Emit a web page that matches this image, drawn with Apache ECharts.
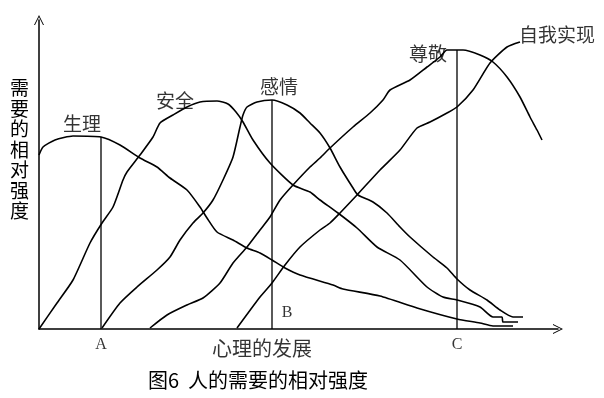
<!DOCTYPE html>
<html style="height: 100%">
<head>
    <meta charset="utf-8">
    <script src="https://cdn.jsdelivr.net/npm/echarts@6/dist/echarts.min.js"></script>
    <title>人的需要的相对强度</title>
</head>
<body style="height: 100%; margin: 0; background: #fff">
<div id="container" style="width: 604px; height: 398px"></div>
<script type="text/javascript">
// curve points: [development, relative strength]
let shengli = [[0,174],[4,182],[16,189],[34,193],[62,192],[81,184],[101,171],[118,162],[131,151],[148,139],[161,122],[168,111],[178,97],[194,89],[208,81],[221,76],[233,69],[246,61],[261,54],[294,44],[304,40],[341,33],[378,21],[418,10],[441,6],[454,3],[474,3]]
let anquan = [[0,0],[18,26],[34,49],[51,86],[63,106],[74,122],[84,149],[88,157],[101,174],[114,192],[121,206],[134,214],[148,222],[161,227],[178,228],[189,225],[197,217],[204,207],[214,189],[231,166],[254,144],[271,137],[281,129],[299,116],[318,101],[338,82],[361,69],[388,42],[404,32],[418,29],[441,22],[454,12],[463,12],[464,7],[479,7]]
let ganqing = [[63,1],[81,26],[98,42],[118,59],[131,72],[141,89],[154,106],[164,116],[174,129],[184,149],[194,172],[201,202],[204,214],[208,222],[218,227],[233,229],[248,224],[261,216],[271,206],[281,196],[291,181],[301,162],[314,141],[319,134],[334,127],[348,116],[361,102],[371,92],[394,72],[408,61],[418,50],[431,39],[448,29],[461,19],[474,12],[484,12]]
let zunjing = [[111,1],[128,14],[148,24],[164,31],[181,46],[194,66],[208,82],[221,99],[231,112],[241,129],[254,144],[271,162],[281,171],[291,181],[314,202],[331,216],[344,229],[351,239],[371,249],[388,262],[401,272],[408,279],[418,279],[424,279],[441,274],[454,267],[468,252],[481,232],[491,212],[498,199],[503,189]]
let ziwo = [[198,1],[221,32],[233,46],[246,64],[261,82],[281,99],[291,106],[301,116],[318,134],[341,159],[361,179],[378,201],[391,207],[408,216],[418,222],[434,239],[451,266],[468,282],[481,287]]

let curveNames = ['生理', '安全', '感情', '尊敬', '自我实现']
let curveLabelPos = [[43,205],[136,228],[240,242],[389,275],[518,294]]

// stages A, B, C and the height of the vertical line at each
let stageNames = ['A', 'B', 'C']
let stageX = [62, 233, 418]
let stageTop = [192, 229, 279]
let stageLabelPos = [[62,-16],[248,16],[418,-16]]

let xName = '心理的发展'
let yName = '需要的相对强度'
let caption = '图6  人的需要的相对强度'

let curves = [shengli, anquan, ganqing, zunjing, ziwo]
let series = []
curves.forEach(function (d, i) {
    series.push({
        name: curveNames[i],
        type: 'line',
        data: d,
        smooth: 0.2,
        symbol: 'none',
        lineStyle: {color: '#000', width: 1.6}
    })
})
stageX.forEach(function (x, i) {
    series.push({
        type: 'line',
        data: [[x, 0], [x, stageTop[i]]],
        symbol: 'none',
        lineStyle: {color: '#000', width: 1.3}
    })
})

let cjk = '"Noto Sans CJK SC", sans-serif'

series.push({
    type: 'scatter',
    symbolSize: 0,
    clip: false,
    data: curveNames.map(function (n, i) {
        return {value: curveLabelPos[i], name: n}
    }),
    label: {
        show: true, position: 'inside', formatter: '{b}',
        color: '#000', fontSize: 19, fontFamily: cjk
    }
})
series.push({
    type: 'scatter',
    symbolSize: 0,
    clip: false,
    data: stageNames.map(function (n, i) {
        return {value: stageLabelPos[i], name: n}
    }).concat([{value: [223, -19], name: xName, label: {fontSize: 20, fontFamily: cjk}}]),
    label: {
        show: true, position: 'inside', formatter: '{b}',
        color: '#000', fontSize: 16, fontFamily: '"Liberation Serif", serif'
    }
})

let arrow = 'path://M0,10L5,0L10,10L9,10L5,2L1,10Z'

let chart = echarts.init(document.getElementById('container'))
chart.setOption({
    animation: false,
    backgroundColor: '#fff',
    grid: {left: 39, top: 20, width: 519, height: 309},
    xAxis: {
        type: 'value', min: 0, max: 519,
        axisLine: {lineStyle: {color: '#000', width: 1.5}, symbol: ['none', arrow], symbolSize: [10, 10]},
        axisTick: {show: false},
        axisLabel: {show: false},
        splitLine: {show: false}
    },
    yAxis: {
        type: 'value', min: 0, max: 309,
        axisLine: {show: true, lineStyle: {color: '#000', width: 1.5}, symbol: ['none', arrow], symbolSize: [10, 10]},
        axisTick: {show: false},
        axisLabel: {show: false},
        splitLine: {show: false}
    },
    graphic: [
        {
            type: 'text', left: 10, top: 78,
            style: {text: yName.split('').join('\n'), fontSize: 19, lineHeight: 20.5, fontFamily: cjk, fill: '#000'}
        },
        {
            type: 'text', x: 258, y: 380,
            style: {text: caption, fontSize: 20, fontFamily: cjk, fill: '#000', align: 'center', verticalAlign: 'middle'}
        }
    ],
    series: series
}, true)
</script>
</body>
</html>
